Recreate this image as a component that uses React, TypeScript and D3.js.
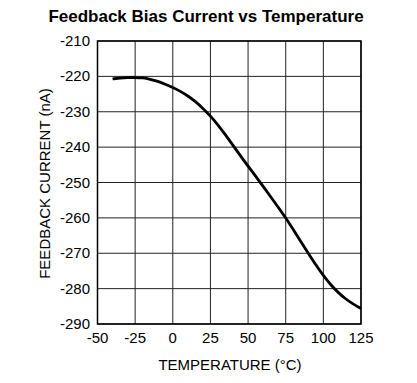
import React from "react";
import * as d3 from "d3";

const temps = [-40, -35, -30, -25, -20, -15, -10, -5, 0, 5, 10, 15, 20, 25, 30, 35, 40, 45, 50, 55, 60, 65, 70, 75, 80, 85, 90, 95, 100, 105, 110, 115, 120, 125];
const currents = [-220.7, -220.5, -220.35, -220.3, -220.4, -220.8, -221.4, -222.2, -223.1, -224.2, -225.5, -227.1, -229.0, -231.2, -233.7, -236.5, -239.5, -242.5, -245.4, -248.2, -251.1, -254.0, -257.0, -260.0, -263.3, -266.7, -270.0, -273.3, -276.3, -279.0, -281.2, -283.0, -284.4, -285.6];
const xTicks = [-50, -25, 0, 25, 50, 75, 100, 125];
const yTicks = [-210, -220, -230, -240, -250, -260, -270, -280, -290];

const title = "Feedback Bias Current vs Temperature";
const xLabel = "TEMPERATURE (°C)";
const yLabel = "FEEDBACK CURRENT (nA)";

export default function App() {
  const W = 417, H = 383;
  const left = 97.5, right = 361, top = 41, bottom = 324;
  const x = d3.scaleLinear().domain([-50, 125]).range([left, right]);
  const y = d3.scaleLinear().domain([-210, -290]).range([top, bottom]);
  const data = temps.map((t, i) => [t, currents[i]] as [number, number]);
  const line = d3.line<[number, number]>().x(d => x(d[0])).y(d => y(d[1])).curve(d3.curveBasis);
  const font = "'Liberation Sans', Arial, sans-serif";
  return (
    <svg width={W} height={H} style={{ position: "absolute", left: 0, top: 0, background: "#fff" }}>
      <text x={206} y={22} textAnchor="middle" fontFamily={font} fontWeight="bold" fontSize={17} fill="#000">{title}</text>
      {xTicks.map(t => (
        <line key={"gx" + t} x1={x(t)} x2={x(t)} y1={top} y2={bottom} stroke="#222" strokeWidth={1} />
      ))}
      {yTicks.map(t => (
        <line key={"gy" + t} x1={left} x2={right} y1={y(t)} y2={y(t)} stroke="#222" strokeWidth={1} />
      ))}
      <rect x={left} y={top} width={right - left} height={bottom - top} fill="none" stroke="#000" strokeWidth={1.5} />
      <path d={line(data) || ""} fill="none" stroke="#000" strokeWidth={2.8} />
      {yTicks.map(t => (
        <text key={"ty" + t} x={90} y={y(t) + 5} textAnchor="end" fontFamily={font} fontSize={15} fill="#000">{t}</text>
      ))}
      {xTicks.map(t => (
        <text key={"tx" + t} x={x(t)} y={343} textAnchor="middle" fontFamily={font} fontSize={15} fill="#000">{t}</text>
      ))}
      <text x={230} y={370} textAnchor="middle" fontFamily={font} fontSize={15} fill="#000">{xLabel}</text>
      <text transform={`translate(50,${(top + bottom) / 2 + 1}) rotate(-90)`} textAnchor="middle" fontFamily={font} fontSize={15} fill="#000">{yLabel}</text>
    </svg>
  );
}
